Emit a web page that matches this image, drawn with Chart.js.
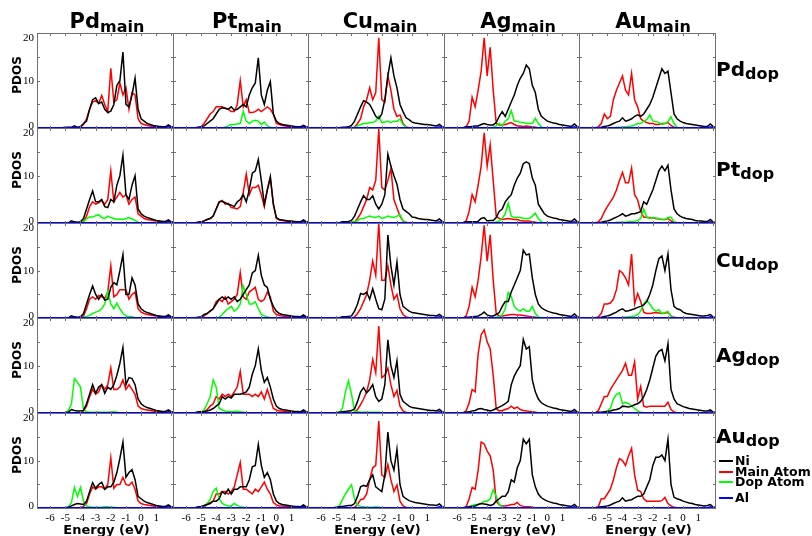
<!DOCTYPE html>
<html><head><meta charset="utf-8">
<script src="https://cdn.jsdelivr.net/npm/chart.js@4/dist/chart.umd.min.js"></script>
<style>
html,body{margin:0;padding:0;background:#fff;}
#fig{position:relative;width:812px;height:536px;overflow:hidden;background:#fff;font-family:'DejaVu Sans',sans-serif;font-weight:bold;color:#000;}
#fig canvas{position:absolute;}
.t{position:absolute;white-space:nowrap;}
</style></head><body><div id="fig"></div>
<script>
// ---------------- data ----------------
const energy = [-6.8,-6.6,-6.4,-6.2,-6,-5.8,-5.6,-5.4,-5.2,-5,-4.8,-4.6,-4.4,-4.2,-4,-3.8,-3.6,-3.4,-3.2,-3,-2.8,-2.6,-2.4,-2.2,-2,-1.8,-1.6,-1.4,-1.2,-1,-0.8,-0.6,-0.4,-0.2,0,0.2,0.4,0.6,0.8,1,1.2,1.4,1.6,1.8,2,2.2];
const mainAtoms = ['Pd','Pt','Cu','Ag','Au'];
const dopAtoms = ['Pd','Pt','Cu','Ag','Au'];
const seriesNames = ['Ni','Main Atom','Dop Atom','Al'];
const xTickLabels = [-6,-5,-4,-3,-2,-1,0,1];
const yTickLabels = [0,10,20];
const xTickMarks = [-6,-5,-4,-3,-2,-1,0,1,2];
const yTickMarks = [0,5,10,15,20];

const alDos = [0.1,0.1,0.1,0.1,0.1,0.1,0.1,0.1,0.1,0.1, 0.1,0.1,0.1,0.1,0.1,0.1,0.1,0.1,0.1,0.1, 0.1,0.1,0.1,0.1,0.1,0.1,0.1,0.1,0.1,0.1, 0.1,0.1,0.1,0.1,0.1,0.1,0.1,0.1,0.1,0.1, 0.1,0.1,0.1,0.3,0.1,0.1];
const noDop = [0,0,0,0,0,0,0,0,0,0, 0,0,0,0,0,0,0,0,0,0, 0,0,0,0,0,0,0,0,0,0, 0,0,0,0,0,0,0,0,0,0, 0,0,0,0,0,0];

// naming: <series>_<main atom>_<dopant>
// ---- Pd dopant row ----
const ni_Pd_Pd = [0.1,0.1,0.1,0.1,0.1,0.1,0.1,0.1,0.1,0.2, 0.2,0.2,0.5,0.2,0.3,1,1.5,4,6,6.4, 5.2,5.5,4,3.3,3.6,5,9,10,16,5, 4.5,7,10.5,4,2,1.5,1,0.8,0.6,0.5, 0.4,0.3,0.3,0.7,0.3,0.2];
const main_Pd_Pd = [0,0,0,0,0,0,0,0,0,0.1, 0.1,0.1,0.1,0.1,0.3,0.8,2,4,5.5,5.8, 5.2,6.9,5,3.5,12.6,5.5,6,9.5,7,8.5, 4,7.5,7,2,1,0.8,0.6,0.5,0.4,0.4, 0.3,0.3,0.3,0.5,0.2,0.1];

const ni_Pt_Pd = [0.1,0.1,0.1,0.1,0.1,0.1,0.1,0.1,0.2,0.3, 0.5,1,1.5,2,3,4,4.3,4.2,4,4.5, 3.8,4,4.5,5,4.5,7,8.5,9.5,14.8,7, 5,8,9.8,3,1.5,1,0.8,0.7,0.6,0.5, 0.4,0.3,0.3,0.6,0.3,0.2];
const main_Pt_Pd = [0,0,0,0,0,0,0,0,0.1,0.3, 1,2,3,3.5,4.5,4.5,4.5,4.2,4,3.5, 3.5,5,10,4.5,6,3.3,3.3,3.5,4,3.5, 4,4.5,4,3,1,0.8,0.6,0.5,0.4,0.4, 0.3,0.3,0.3,0.4,0.2,0.1];
const dop_Pt_Pd = [0,0,0,0,0,0,0,0,0,0, 0,0,0,0,0,0,0,0.3,0.5,0.8, 0.8,0.9,1,3.5,1.5,1,1.5,1.7,1.5,0.8, 1.3,0.5,0.2,0,0,0,0,0,0,0, 0,0,0,0,0,0];

const ni_Cu_Pd = [0.1,0.1,0.1,0.1,0.1,0.1,0.1,0.1,0.1,0.1, 0.1,0.2,0.2,0.3,0.6,1.5,3,4.5,5.8,5.5, 5,3.8,2.5,2,3,6,11,14.8,11,8.5, 5,3.5,2.2,1.8,1.3,1.1,1,0.9,0.8,0.8, 0.7,0.6,0.5,0.8,0.3,0.2];
const main_Cu_Pd = [0,0,0,0,0,0,0,0,0,0, 0,0,0,0,0,0.2,1,2,4.5,6, 8.5,6,7.5,19,6,5.5,11,8,4,2.5, 2.8,1,0.3,0.1,0,0,0,0,0,0, 0,0,0,0,0,0];
const dop_Cu_Pd = [0,0,0,0,0,0,0,0,0,0, 0,0,0,0,0,0.2,0.5,0.8,1,1, 1.2,1.2,1.5,2.6,1.2,1.3,1.5,1.2,1.5,1.5, 1.9,0.8,0.2,0,0,0,0,0,0,0, 0,0,0,0,0,0];

const ni_Ag_Pd = [0.1,0.1,0.1,0.1,0.1,0.1,0.1,0.3,0.3,0.4, 0.5,0.5,0.8,1,0.8,0.7,0.7,1.2,2.5,3.5, 2.5,4,5.5,7,9,10.5,11.5,13.3,12.5,9, 7.5,4,2.5,2,1.5,1.3,1.1,1,0.8,0.7, 0.6,0.5,0.4,0.9,0.3,0.2];
const main_Ag_Pd = [0,0,0,0,0,0,0,0.3,1.5,6.5, 4.5,8,12,19,11,17,8,1,0.7,0.7, 0.8,1,1.2,0.8,0.5,0.5,0.4,0.5,0.4,0.3, 0.2,0.1,0,0,0,0,0,0,0,0, 0,0,0,0,0,0];
const dop_Ag_Pd = [0,0,0,0,0,0,0,0,0,0, 0,0,0,0,0,0.1,0.2,0.5,1,0.5, 1.5,2,3.7,1.5,1.5,1.2,1.2,1,1,1, 2.1,1,0.3,0,0,0,0,0,0,0, 0,0,0,0,0,0];

const ni_Au_Pd = [0.1,0.1,0.1,0.1,0.1,0.1,0.1,0.2,0.4,0.5, 0.7,1,1.3,1.5,2.2,1.5,1.7,2,2.5,2.8, 2.5,3,4,5,6.5,8.5,10.5,12.5,11.5,12, 7.5,3,2,1.5,1.2,1,0.9,0.8,0.7,0.6, 0.5,0.4,0.4,0.9,0.3,0.2];
const main_Au_Pd = [0,0,0,0,0,0.1,0.3,1,3,2, 2.5,6,8,9.5,11,8,7,11.5,6,4.5, 2,1.5,1.2,1,1,0.8,0.8,1,1,1.2, 0.6,0.2,0.1,0,0,0,0,0,0,0, 0,0,0,0,0,0];
const dop_Au_Pd = [0,0,0,0,0,0,0,0,0,0, 0,0,0.2,0.2,0.2,0.3,0.4,0.5,0.7,1, 1,1.5,1.8,2.8,1.5,1.4,1.2,0.8,1,1.4, 2.4,1,0.2,0,0,0,0,0,0,0, 0,0,0,0,0,0];

// ---- Pt dopant row ----
const ni_Pd_Pt = [0.1,0.1,0.1,0.1,0.1,0.1,0.1,0.1,0.1,0.1, 0.1,0.5,0.3,0.2,0.3,1,3,5,6.8,4.5, 4.5,5,3.5,3.3,5,4.5,8,10,14.3,6, 5,8,10,3,2,1.5,1.2,1,0.8,0.6, 0.5,0.4,0.4,0.7,0.3,0.2];
const main_Pd_Pt = [0,0,0,0,0,0,0,0,0,0.1, 0.1,0.1,0.1,0.1,0.1,0.3,1.5,3.5,4.5,4, 4.3,4.8,4,5,11,4.5,5.5,6.5,5.5,6, 4,5,5.5,2,1.5,1,0.8,0.7,0.6,0.5, 0.4,0.4,0.3,0.4,0.2,0.1];
const dop_Pd_Pt = [0,0,0,0,0,0,0,0,0,0, 0,0,0,0,0.1,0.3,1,1.3,1.3,1.6, 1.8,1.2,1,1.5,1.2,1,0.8,0.9,0.8,1, 1.2,0.9,0.6,0.2,0,0,0,0,0,0, 0,0,0,0,0,0];

const ni_Pt_Pt = [0.1,0.1,0.1,0.1,0.1,0.1,0.1,0.1,0.2,0.3, 0.5,0.8,1,1.5,3,4.5,4.6,4.3,4,3.8, 3.5,4.5,5,6,4.5,7,10.5,11,13.4,9, 4,7,9.8,4,1.2,0.8,0.7,0.6,0.5,0.5, 0.4,0.3,0.3,0.7,0.3,0.2];
const main_Pt_Pt = [0,0,0,0,0,0,0,0,0.2,0.3, 0.5,0.8,1,1.5,3,4.5,4.8,4,4.2,3.3, 3.2,3,3.5,6.5,10.3,6,7.5,7.5,8,6, 3.5,7,9.5,4,1,0.7,0.6,0.5,0.4,0.4, 0.3,0.3,0.3,0.5,0.2,0.1];

const ni_Cu_Pt = [0.1,0.1,0.1,0.1,0.1,0.1,0.1,0.1,0.1,0.1, 0.1,0.3,0.3,0.4,0.6,1.5,3,4.5,5.8,5, 5,5.8,4,3,4,6,14.5,12,10,8.2, 5,3,2.5,2,1.3,1.2,1,0.9,0.8,0.8, 0.7,0.6,0.5,0.9,0.3,0.2];
const main_Cu_Pt = [0,0,0,0,0,0,0,0,0,0, 0,0,0,0,0,0.2,1,2,3.5,5, 7.5,7,9,19.8,7.5,7,9,11.5,5,3.2, 1.5,0.5,0.2,0,0,0,0,0,0,0, 0,0,0,0,0,0];
const dop_Cu_Pt = [0,0,0,0,0,0,0,0,0,0, 0,0,0,0,0.3,0.4,0.5,1,1,1.3, 1.5,1.3,1.2,1.5,1,1.2,1.5,1.3,1.2,1.5, 1.8,0.5,0.1,0,0,0,0,0,0,0, 0,0,0,0,0,0];

const ni_Ag_Pt = [0.1,0.1,0.1,0.1,0.1,0.1,0.1,0.3,0.3,0.3, 0.3,0.4,1,1.2,0.5,0.6,0.6,1.2,2.5,3, 4.5,5.3,6,8,9.5,10.5,12.5,12.9,12.5,9.5, 8,4,3,2,1.5,1.3,1.1,1,0.8,0.7, 0.6,0.5,0.4,0.9,0.3,0.2];
const main_Ag_Pt = [0,0,0,0,0,0,0.1,0.5,2.5,6, 4.5,8,12,19,12,16.5,9,1.5,1,0.8, 0.9,1,0.9,0.8,0.8,0.6,0.5,0.5,0.5,0.3, 0.2,0.1,0,0,0,0,0,0,0,0, 0,0,0,0,0,0];
const dop_Ag_Pt = [0,0,0,0,0,0,0,0,0,0, 0,0,0,0,0,0,0.1,0.3,0.5,1, 2,4.2,1.5,1.2,1.2,1.2,1,1,1,1.5, 2.1,1,0.3,0,0,0,0,0,0,0, 0,0,0,0,0,0];

const ni_Au_Pt = [0.1,0.1,0.1,0.1,0.1,0.1,0.1,0.2,0.4,0.5, 0.7,1,1.3,1.6,2,1.5,1.7,2,2,2.2, 2.5,4.5,4,5.5,7,9,11,12,11,12.2, 7,3,2,1.5,1.2,1,0.9,0.8,0.6,0.5, 0.5,0.4,0.4,0.8,0.2,0.2];
const main_Au_Pt = [0,0,0,0,0,0.1,0.3,1,2.4,3.5, 4.5,5.5,7,9,10.7,8.5,8.5,11.6,6,4.9, 2.5,1.3,1.2,1.2,1.1,1,0.9,0.8,0.8,1, 0.5,0.2,0.1,0,0,0,0,0,0,0, 0,0,0,0,0,0];
const dop_Au_Pt = [0,0,0,0,0,0,0,0,0,0, 0,0,0.2,0.2,0.2,0.2,0.3,0.3,0.4,0.6, 1,3,1.3,1,1.2,1.1,1,0.8,0.8,1.2, 1.3,0.3,0.1,0,0,0,0,0,0,0, 0,0,0,0,0,0];

// ---- Cu dopant row ----
const ni_Pd_Cu = [0.1,0.1,0.1,0.1,0.1,0.1,0.1,0.1,0.1,0.1, 0.1,0.5,0.3,0.2,0.3,1,3,5,6.8,5, 4,5,3.8,4,6.5,7.5,7,10,13.4,5, 5,8.5,7,3,2,1.5,1.2,1,0.8,0.6, 0.5,0.4,0.4,0.7,0.3,0.2];
const main_Pd_Cu = [0,0,0,0,0,0,0,0,0,0.1, 0.1,0.1,0.1,0.1,0.1,0.5,2,4,4.5,4, 4.8,4.5,4.2,5.5,11,4.5,5,6,6,6, 4,5,5.5,2,1.3,1,0.8,0.7,0.6,0.5, 0.4,0.4,0.3,0.4,0.2,0.1];
const dop_Pd_Cu = [0,0,0,0,0,0,0,0,0,0, 0,0,0,0,0,0.2,0.4,0.6,1,1.3, 1.5,2,3,5.7,3,2,3.2,2,1,0.5, 0.4,0.4,0.1,0,0,0,0,0,0,0, 0,0,0,0,0,0];

const ni_Pt_Cu = [0.1,0.1,0.1,0.1,0.1,0.1,0.1,0.1,0.2,0.3, 0.8,1,1.5,2,3,4,4.5,4,4.5,4, 4.5,3.5,4,5,6,7,9.5,10,13.2,9, 7,6.5,4,2.5,1.5,1,0.8,0.7,0.6,0.5, 0.4,0.4,0.3,0.7,0.3,0.2];
const main_Pt_Cu = [0,0,0,0,0,0,0,0,0,0.2, 0.5,1,1.5,2,3.5,4,3.5,4.5,3,3.5, 4,5,9.6,4.5,4,5.5,6,6.5,4,3.5, 4,5.5,4.5,1.5,0.8,0.6,0.5,0.4,0.4,0.3, 0.3,0.3,0.2,0.4,0.2,0.1];
const dop_Pt_Cu = [0,0,0,0,0,0,0,0,0,0, 0,0,0,0,0,0.2,0.8,1.5,2,2.5, 1.5,2,3,6.8,5,3,3,3.5,2,0.8, 0.5,0.3,0.1,0,0,0,0,0,0,0, 0,0,0,0,0,0];

const ni_Cu_Cu = [0.1,0.1,0.1,0.1,0.1,0.1,0.1,0.1,0.1,0.1, 0.1,0.3,0.3,0.4,0.5,1.5,3,5.2,5,5.5, 4,6.2,4,2,1.8,4,17.5,11,7,11.8, 5,2.5,2,1.5,1.2,1.1,1,0.9,0.8,0.7, 0.6,0.6,0.5,0.8,0.3,0.2];
const main_Cu_Cu = [0,0,0,0,0,0,0,0,0,0, 0,0,0,0,0,0.3,1,2,3.5,5, 8,12,9,20,8,8,11,7,4,5, 2,0.8,0.3,0.1,0,0,0,0,0,0, 0,0,0,0,0,0];

const ni_Ag_Cu = [0.1,0.1,0.1,0.1,0.1,0.1,0.1,0.2,0.2,0.3, 0.4,0.5,0.8,1.3,0.7,0.5,0.5,0.8,1.2,2.5, 3.5,3.5,5.5,7,8.5,10,14.3,13.3,13.5,8.5, 5,3,2.2,1.8,1.5,1.3,1.1,1,0.8,0.7, 0.6,0.5,0.4,0.9,0.3,0.2];
const main_Ag_Cu = [0,0,0,0,0,0,0,0.5,2.5,6.5, 4.5,8,13,19.5,12,17.5,8,1,0.5,0.5, 0.6,0.7,0.8,0.8,0.7,0.7,0.6,0.5,0.4,0.3, 0.2,0.1,0,0,0,0,0,0,0,0, 0,0,0,0,0,0];
const dop_Ag_Cu = [0,0,0,0,0,0,0,0,0,0, 0,0,0,0,0,0,0.1,0.2,0.4,0.7, 2,5.4,4.6,2.5,1.8,1.5,2,1.5,1.5,2.5, 1,0.3,0.1,0,0,0,0,0,0,0, 0,0,0,0,0,0];

const ni_Au_Cu = [0.1,0.1,0.1,0.1,0.1,0.1,0.1,0.2,0.4,0.5, 0.7,1,1.3,1.7,2,1.5,1.6,1.8,2,2.3, 2.5,2.8,3.5,5,7,10,12.5,13.1,10,13.5, 6,2.5,2,1.8,1.3,1,0.9,0.8,0.7,0.6, 0.5,0.5,0.6,0.8,0.2,0.2];
const main_Au_Cu = [0,0,0,0,0,0.1,0.3,1,3,3, 3.2,4,6,10,9.5,8.5,7,13.5,3,5.2, 3.5,1.3,1,1,1.1,1.2,1.1,1,1.1,1.2, 0.5,0.2,0.1,0,0,0,0,0,0,0, 0,0,0,0,0,0];
const dop_Au_Cu = [0,0,0,0,0,0,0,0,0,0, 0,0,0,0,0.2,0.2,0.3,0.4,0.5,0.8, 1.5,3,3.8,3,2,1.5,1.8,1,1.2,1.4, 0.5,0.1,0,0,0,0,0,0,0,0, 0,0,0,0,0,0];

// ---- Ag dopant row ----
const ni_Pd_Ag = [0.1,0.1,0.1,0.1,0.1,0.1,0.1,0.1,0.1,0.1, 0.2,0.8,0.6,0.5,0.5,0.6,2,4,6,4.2, 5.5,6,4.2,5.5,5,6,8,10.5,13.8,6, 7.5,7.3,6,3,2,1.5,1.2,1,0.8,0.6, 0.5,0.4,0.4,0.7,0.3,0.2];
const main_Pd_Ag = [0,0,0,0,0,0,0,0,0,0.1, 0.1,0.1,0.1,0.1,0.1,0.5,1.5,3.5,5,4, 4.5,6,5,6,9.5,5,5,5.5,7,5, 6,5,4,1.5,1,0.8,0.7,0.6,0.5,0.4, 0.4,0.3,0.3,0.4,0.2,0.1];
const dop_Pd_Ag = [0,0,0,0,0,0,0,0,0,0.1, 0.6,2,7.3,6.5,5.5,0.8,0.3,0.2,0.2,0.2, 0.2,0.2,0.2,0.2,0.2,0.3,0.2,0.1,0,0, 0,0,0,0,0,0,0,0,0,0, 0,0,0,0,0,0];

const ni_Pt_Ag = [0.1,0.1,0.1,0.1,0.1,0.1,0.1,0.1,0.3,0.3, 0.4,0.5,0.7,1,1.5,2,3.5,3,3.5,3.2, 4,4,4,4.2,4.5,5.5,8.2,10,13.5,9, 6.5,7.5,5.5,3,1.5,1,0.8,0.7,0.6,0.5, 0.4,0.4,0.3,0.7,0.3,0.2];
const main_Pt_Ag = [0,0,0,0,0,0,0,0,0,0.1, 0.3,0.8,1.5,2,3.5,3,4,3.5,4,3.5, 4.5,5.5,8.8,4,4,4,3.5,4,3.5,4.5, 3,5,3,1,0.7,0.5,0.5,0.4,0.4,0.3, 0.3,0.3,0.2,0.3,0.2,0.1];
const dop_Pt_Ag = [0,0,0,0,0,0,0,0,0,0.2, 0.7,2,3.5,7,5.5,1,0.7,0.5,0.4,0.3, 0.4,0.5,0.3,0.2,0.1,0,0,0,0,0, 0,0,0,0,0,0,0,0,0,0, 0,0,0,0,0,0];

const ni_Cu_Ag = [0.1,0.1,0.1,0.1,0.1,0.1,0.1,0.1,0.1,0.1, 0.2,0.3,0.4,0.5,0.6,0.9,2.5,4.5,5.4,4.3, 5,6,3.5,2.5,3,6,15.4,10,7.5,11, 4,2.5,2,1.5,1.2,1.1,1,0.9,0.8,0.7, 0.6,0.6,0.5,0.8,0.3,0.2];
const main_Cu_Ag = [0,0,0,0,0,0,0,0,0,0, 0,0,0,0,0,0.2,0.8,1.8,3,4.5, 7,11.3,8.5,18.3,7.5,8,9.5,6,3.5,4.8, 1.5,0.5,0.2,0,0,0,0,0,0,0, 0,0,0,0,0,0];
const dop_Cu_Ag = [0,0,0,0,0,0,0,0,0,0, 0.2,1,4.5,6.8,4,0.5,0.3,0.2,0.2,0.2, 0.2,0.2,0.2,0.2,0.1,0,0,0,0,0, 0,0,0,0,0,0,0,0,0,0, 0,0,0,0,0,0];

const ni_Ag_Ag = [0.1,0.1,0.1,0.1,0.1,0.1,0.1,0.2,0.3,0.5, 0.6,0.9,1,0.8,0.7,0.5,0.7,1,1.3,1.6, 2,2.5,6,7.8,9,10,15.5,13.5,14,7, 4.5,3,2.2,1.8,1.5,1.3,1.1,1,0.8,0.7, 0.6,0.5,0.4,0.8,0.2,0.2];
const main_Ag_Ag = [0,0,0,0,0,0,0.1,0.5,2.2,5, 4.5,12.5,16.5,17.5,15,13.5,8,1,0.5,0.6, 0.8,1,1.5,1,1.3,0.8,0.6,0.5,0.4,0.3, 0.2,0.1,0,0,0,0,0,0,0,0, 0,0,0,0,0,0];

const ni_Au_Ag = [0.1,0.1,0.1,0.1,0.1,0.1,0.2,0.2,0.3,0.4, 0.5,0.7,0.8,1,1.5,1.4,1.3,1.5,1.8,2, 2.5,3.5,5,7,9.5,12,13,13.4,11,14.6, 5,3,2,1.7,1.4,1.2,1,0.9,0.8,0.7, 0.6,0.5,0.5,0.7,0.2,0.2];
const main_Au_Ag = [0,0,0,0,0,0.1,0.5,2,3.5,3.5, 5,6,7,8,9,10.5,8,8,10.8,3, 5.6,1.5,1.3,1.5,1.5,1.5,1.5,1.5,1.5,2.3, 0.8,0.3,0.1,0,0,0,0,0,0,0, 0,0,0,0,0,0];
const dop_Au_Ag = [0,0,0,0,0,0,0,0,0.2,0.5, 1,3,4,4.3,2,2.3,2,1.5,1,0.5, 0.2,0.1,0,0,0,0,0,0,0,0, 0,0,0,0,0,0,0,0,0,0, 0,0,0,0,0,0];

// ---- Au dopant row ----
const ni_Pd_Au = [0.1,0.1,0.1,0.1,0.1,0.1,0.1,0.1,0.1,0.1, 0.2,0.5,0.8,1,0.9,0.8,1.5,3.5,5.4,4.2, 5,5.5,4,4.5,4.5,5.5,7.5,10.5,13.9,6.5, 7.5,8.1,6,2.5,2,1.5,1.2,1,0.8,0.6, 0.5,0.4,0.4,0.7,0.3,0.2];
const main_Pd_Au = [0,0,0,0,0,0,0,0,0,0.1, 0.1,0.1,0.1,0.1,0.1,0.4,1,3,4.5,4, 4.5,4.5,4,5,10.6,4.2,5,5,6.5,5, 4.8,5.5,4,1.5,1,0.8,0.7,0.6,0.5,0.4, 0.4,0.3,0.3,0.4,0.2,0.1];
const dop_Pd_Au = [0,0,0,0,0,0,0,0,0,0, 0.3,1.2,4.4,2.5,4.4,1.5,0.5,0.3,0.2,0.2, 0.2,0.2,0.3,0.3,0.2,0.2,0.1,0,0,0, 0,0,0,0,0,0,0,0,0,0, 0,0,0,0,0,0];

const ni_Pt_Au = [0.1,0.1,0.1,0.1,0.1,0.1,0.1,0.1,0.3,0.4, 0.6,0.8,1,1.5,1.5,2,3.5,3,4,3, 4,4,4.5,4.5,4.5,6,8.7,9,13.4,9, 6.5,7.5,6,3,1.5,1,0.8,0.7,0.6,0.5, 0.4,0.4,0.3,0.7,0.3,0.2];
const main_Pt_Au = [0,0,0,0,0,0,0,0,0,0.1, 0.3,0.8,1.2,1.5,3,3,3.5,3.5,3,3.5, 4.5,7,9.6,4,4,3.5,3,4,3.5,4.5, 5.5,4,3,1.2,0.7,0.5,0.5,0.4,0.4,0.3, 0.3,0.3,0.2,0.3,0.2,0.1];
const dop_Pt_Au = [0,0,0,0,0,0,0,0,0,0.1, 0.5,1,1.8,3.5,4.2,2,1,0.7,0.5,0.5, 1,0.6,0.3,0.2,0.1,0,0,0,0,0, 0,0,0,0,0,0,0,0,0,0, 0,0,0,0,0,0];

const ni_Cu_Au = [0.1,0.1,0.1,0.1,0.1,0.1,0.1,0.1,0.1,0.2, 0.3,0.4,0.5,0.6,0.6,1,2.5,4.5,4.8,4.6, 6,7,4.5,4,3.5,7,16,10,8,12.4, 5,2.5,2,1.6,1.4,1.2,1.1,1,0.9,0.8, 0.7,0.7,0.6,0.9,0.3,0.2];
const main_Cu_Au = [0,0,0,0,0,0,0,0,0,0, 0,0,0,0,0,0.2,0.8,1.8,2,3, 6,8.5,9,18.3,7,6.5,9.2,6,3.5,4.9, 1.5,0.5,0.2,0,0,0,0,0,0,0, 0,0,0,0,0,0];
const dop_Cu_Au = [0,0,0,0,0,0,0,0,0,0.1, 0.5,1.8,3,4,4.9,2,0.6,0.4,0.3,0.2, 0.2,0.2,0.3,0.2,0.1,0,0,0,0,0, 0,0,0,0,0,0,0,0,0,0, 0,0,0,0,0,0];

const ni_Ag_Au = [0.1,0.1,0.1,0.1,0.1,0.1,0.1,0.2,0.3,0.4, 0.5,0.8,1,0.9,0.8,0.6,0.8,1.5,2,2.5, 2.5,3.5,6,5.5,8.5,10,14.5,13.5,14.5,7, 4.5,3,2.2,1.8,1.5,1.3,1.1,1,0.8,0.7, 0.6,0.5,0.4,0.8,0.2,0.2];
const main_Ag_Au = [0,0,0,0,0,0,0.1,0.3,2,4.4, 4,8,13.9,13.5,12,11,8,1.5,0.7,0.5, 0.5,0.6,0.8,0.8,1.2,0.6,0.4,0.3,0.3,0.2, 0.1,0,0,0,0,0,0,0,0,0, 0,0,0,0,0,0];
const dop_Ag_Au = [0,0,0,0,0,0,0,0.1,0.4,0.6, 0.8,0.8,1,1.5,1.5,2,3.9,2.5,0.8,0.3, 0.1,0,0,0,0,0,0,0,0,0, 0,0,0,0,0,0,0,0,0,0, 0,0,0,0,0,0];

const ni_Au_Au = [0.1,0.1,0.1,0.1,0.1,0.1,0.2,0.3,0.4,0.5, 0.7,1,1.3,1.5,2.2,1.5,1.7,1.8,2.2,2.5, 2.5,3,4.5,6,9,10.7,10.7,11.2,10,14.5, 5,2.3,2,1.8,1.5,1.3,1.1,1,0.8,0.7, 0.6,0.5,0.6,0.8,0.2,0.2];
const main_Au_Au = [0,0,0,0,0,0.1,0.3,2,2,3, 4,6,8.5,10.4,10,9,11,12.6,7,3.8, 3.5,2,1.5,1.5,1.5,1.5,1.5,1.6,2.3,1, 0.5,0.2,0.1,0,0,0,0,0,0,0, 0,0,0,0,0,0];

// table: pdos[main][dopant] = [Ni, Main Atom, Dop Atom]
const pdos = {
  Pd:{Pd:[ni_Pd_Pd,main_Pd_Pd,noDop], Pt:[ni_Pd_Pt,main_Pd_Pt,dop_Pd_Pt], Cu:[ni_Pd_Cu,main_Pd_Cu,dop_Pd_Cu], Ag:[ni_Pd_Ag,main_Pd_Ag,dop_Pd_Ag], Au:[ni_Pd_Au,main_Pd_Au,dop_Pd_Au]},
  Pt:{Pd:[ni_Pt_Pd,main_Pt_Pd,dop_Pt_Pd], Pt:[ni_Pt_Pt,main_Pt_Pt,noDop], Cu:[ni_Pt_Cu,main_Pt_Cu,dop_Pt_Cu], Ag:[ni_Pt_Ag,main_Pt_Ag,dop_Pt_Ag], Au:[ni_Pt_Au,main_Pt_Au,dop_Pt_Au]},
  Cu:{Pd:[ni_Cu_Pd,main_Cu_Pd,dop_Cu_Pd], Pt:[ni_Cu_Pt,main_Cu_Pt,dop_Cu_Pt], Cu:[ni_Cu_Cu,main_Cu_Cu,noDop], Ag:[ni_Cu_Ag,main_Cu_Ag,dop_Cu_Ag], Au:[ni_Cu_Au,main_Cu_Au,dop_Cu_Au]},
  Ag:{Pd:[ni_Ag_Pd,main_Ag_Pd,dop_Ag_Pd], Pt:[ni_Ag_Pt,main_Ag_Pt,dop_Ag_Pt], Cu:[ni_Ag_Cu,main_Ag_Cu,dop_Ag_Cu], Ag:[ni_Ag_Ag,main_Ag_Ag,noDop], Au:[ni_Ag_Au,main_Ag_Au,dop_Ag_Au]},
  Au:{Pd:[ni_Au_Pd,main_Au_Pd,dop_Au_Pd], Pt:[ni_Au_Pt,main_Au_Pt,dop_Au_Pt], Cu:[ni_Au_Cu,main_Au_Cu,dop_Au_Cu], Ag:[ni_Au_Ag,main_Au_Ag,dop_Au_Ag], Au:[ni_Au_Au,main_Au_Au,noDop]}
};

// ---------------- layout / style ----------------
const colX = [37,173,308,444,579,715];
const rowY = [33,128,223,318,413,508];
const colors = {ni:'#000000', main:'#ff0000', dop:'#00ff00', al:'#0000ff'};
const fig = document.getElementById('fig');

const framePlugin = {
  id:'frame',
  afterDraw(chart){
    const {ctx, chartArea:a, scales:{x,y}} = chart;
    const o = chart.options.plugins.frame;
    ctx.save();
    ctx.strokeStyle = '#707070'; ctx.lineWidth = 1;
    ctx.strokeRect(a.left+0.5, a.top+0.5, a.right-a.left-1, a.bottom-a.top-1);
    ctx.beginPath();
    xTickMarks.forEach(v=>{
      const px = Math.round(x.getPixelForValue(v))+0.5;
      ctx.moveTo(px,a.top); ctx.lineTo(px,a.top+3);
      ctx.moveTo(px,a.bottom); ctx.lineTo(px,a.bottom-3);
    });
    yTickMarks.forEach(v=>{
      const py = Math.round(y.getPixelForValue(v))+0.5;
      ctx.moveTo(a.left,py); ctx.lineTo(a.left+3,py);
      ctx.moveTo(a.right,py); ctx.lineTo(a.right-3,py);
    });
    ctx.stroke();
    ctx.fillStyle = '#000';
    ctx.font = '11px "Liberation Serif", "DejaVu Serif", serif';
    if (o.showY){
      ctx.textAlign='right'; ctx.textBaseline='middle';
      yTickLabels.forEach(v=>{
        let py = y.getPixelForValue(v);
        py = Math.max(a.top+5, Math.min(a.bottom-3, py));
        ctx.fillText(String(v), a.left-3, py);
      });
    }
    if (o.showX){
      ctx.textAlign='center'; ctx.textBaseline='middle';
      xTickLabels.forEach(v=>{
        ctx.fillText(String(v), x.getPixelForValue(v), a.bottom+9);
      });
    }
    ctx.restore();
  }
};

function series(vals){ return vals.map((v,i)=>({x:energy[i], y:v})); }

dopAtoms.forEach((dop, r)=>{
  mainAtoms.forEach((main, c)=>{
    const padL = c===0 ? 37 : 0, padB = r===4 ? 28 : 0;
    const w = colX[c+1]-colX[c]+1+padL, h = rowY[r+1]-rowY[r]+1+padB;
    const cv = document.createElement('canvas');
    cv.width = w; cv.height = h;
    cv.style.width = w+'px'; cv.style.height = h+'px';
    cv.style.left = (colX[c]-padL)+'px'; cv.style.top = rowY[r]+'px';
    fig.appendChild(cv);
    const [niV, mainV, dopV] = pdos[main][dop];
    const lw = 1.5;
    const ds = [
      {label:seriesNames[3], data:series(alDos), borderColor:colors.al, borderWidth:lw},
      {label:seriesNames[0], data:series(niV), borderColor:colors.ni, borderWidth:lw},
      {label:seriesNames[2], data:series(dopV), borderColor:colors.dop, borderWidth:lw, hidden: dopV===noDop},
      {label:seriesNames[1], data:series(mainV), borderColor:colors.main, borderWidth:lw}
    ];
    ds.forEach(d=>{ d.pointRadius=0; d.tension=0; d.fill=false; });
    new Chart(cv, {
      type:'line',
      data:{datasets:ds},
      options:{
        responsive:false, animation:false, devicePixelRatio:1,
        layout:{padding:{left:padL, bottom:padB, top:0, right:0}},
        scales:{
          x:{type:'linear', min:-6.87, max:2.17, display:false},
          y:{type:'linear', min:-0.15, max:20, display:false}
        },
        plugins:{legend:{display:false}, tooltip:{enabled:false}, frame:{showY:c===0, showX:r===4}}
      },
      plugins:[framePlugin]
    });
  });
});

// ---------------- text ----------------
function addText(html, x, baseline, fs, center){
  const d = document.createElement('div');
  d.className = 't';
  d.style.fontSize = fs+'px'; d.style.lineHeight = fs+'px';
  d.style.top = (baseline - 0.846*fs)+'px';
  d.style.left = x+'px';
  if (center) d.style.transform = 'translateX(-50%)';
  d.innerHTML = html;
  fig.appendChild(d);
  return d;
}
const colTitleX = [107,247,380,518,653];
mainAtoms.forEach((m,c)=>{
  addText(m+'<span style="font-size:16px;position:relative;top:4px">main</span>', colTitleX[c], 29, 21, true);
});
const rowLabelBase = [76,176,267,362,443];
dopAtoms.forEach((d,r)=>{
  addText(d+'<span style="font-size:16px;position:relative;top:3px">dop</span>', 716, rowLabelBase[r], 20, false);
});
// y axis titles
for (let r=0;r<5;r++){
  const d = document.createElement('div');
  d.className='t'; d.textContent='PDOS';
  d.style.fontSize='12px'; d.style.lineHeight='12px';
  d.style.left='17px'; d.style.top=((rowY[r]+rowY[r+1])/2-6)+'px';
  d.style.transform='translate(-50%,-50%) rotate(-90deg)';
  fig.appendChild(d);
}
// x axis titles
for (let c=0;c<5;c++){
  addText('Energy (eV)', (colX[c]+colX[c+1])/2+1.5, 533.5, 13, true);
}
// legend
const legendY = [461,471.5,482,497.5];
const legendColors = [colors.ni, colors.main, colors.dop, colors.al];
seriesNames.forEach((n,i)=>{
  const ln = document.createElement('div');
  ln.style.position='absolute'; ln.style.left='719px'; ln.style.width='14px';
  ln.style.height='2px'; ln.style.top=(legendY[i]-1)+'px'; ln.style.background=legendColors[i];
  fig.appendChild(ln);
  addText(n, 735, legendY[i]+4.6, 12.5, false);
});
</script></body></html>
